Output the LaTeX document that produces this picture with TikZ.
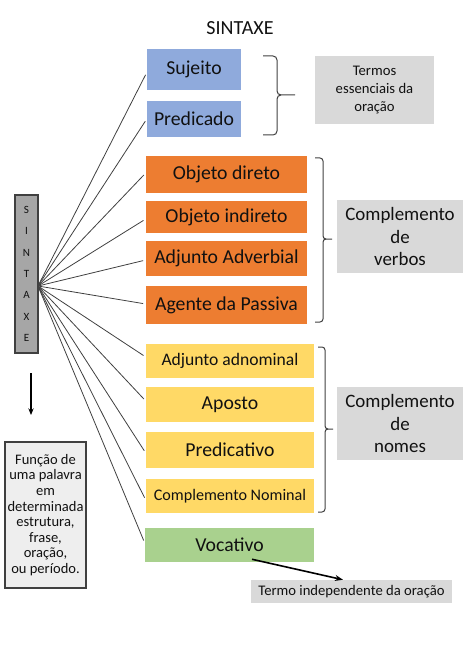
\documentclass[tikz,border=0pt]{standalone}
\usepackage{fontspec}
\setmainfont{Carlito}
\usetikzlibrary{arrows.meta,calc}
\definecolor{cblue}{HTML}{8FAADC}
\definecolor{corange}{HTML}{ED7D31}
\definecolor{cyellow}{HTML}{FFD966}
\definecolor{cgreen}{HTML}{A9D18E}
\definecolor{cgray}{HTML}{D9D9D9}
\definecolor{cbar}{HTML}{A6A6A6}
\definecolor{cbarline}{HTML}{404040}
\definecolor{cfunc}{HTML}{EEEEEE}
\definecolor{ctext}{HTML}{111111}
\begin{document}
\begin{tikzpicture}[x=0.75pt,y=-0.75pt,
  bx/.style 2 args={inner sep=0pt, minimum width=#1*0.75pt, minimum height=#2*0.75pt, text=ctext},
  mainf/.style={font=\fontsize{14.8pt}{17pt}\selectfont},
  fan/.style={draw=black!75, line width=0.6pt, shorten >=2pt},
  bracestyle/.style={draw=black!75, line width=0.75pt},
  side/.style={fill=cgray, align=center, text=ctext}
]
\useasboundingbox (0,0) rectangle (474,656);

% title
\node[text=ctext, font=\fontsize{15pt}{18pt}\selectfont] (title) at (240,28) {SINTAXE};

% main boxes
\node[bx={94}{41}, fill=cblue, mainf] (suj) at (194,69.5) {Sujeito};
\node[bx={94}{36}, fill=cblue, mainf] (pred) at (194,119) {Predicado};
\node[bx={161}{37}, fill=corange, mainf] (od) at (226.5,174.5) {Objeto direto};
\node[bx={161}{32}, fill=corange, mainf] (oi) at (226.5,217) {Objeto indireto};
\node[bx={161}{35}, fill=corange, mainf] (aa) at (226.5,258.5) {Adjunto Adverbial};
\node[bx={161}{38}, fill=corange, mainf] (ap) at (226.5,305) {Agente da Passiva};
\node[bx={168}{34}, fill=cyellow, font=\fontsize{13.2pt}{15pt}\selectfont] (adn) at (230,361) {Adjunto adnominal};
\node[bx={168}{35}, fill=cyellow, mainf] (apo) at (230,404.5) {Aposto};
\node[bx={168}{36}, fill=cyellow, mainf] (prv) at (230,450) {Predicativo};
\node[bx={168}{34}, fill=cyellow, font=\fontsize{12.1pt}{14pt}\selectfont] (cn) at (230,496) {Complemento Nominal};
\node[bx={169}{34}, fill=cgreen, mainf] (voc) at (229.5,545) {Vocativo};

% side labels
\node[bx={119}{68}, side, font=\fontsize{11pt}{13.7pt}\selectfont] (te) at (374.5,90) {Termos\\essenciais da\\oração};
\node[bx={126}{73}, side, font=\fontsize{14.2pt}{16.9pt}\selectfont] (cv) at (400,236.5) {Complemento\\de\\verbos};
\node[bx={126}{73}, side, font=\fontsize{14.2pt}{16.9pt}\selectfont] (cnm) at (400,423.5) {Complemento\\de\\nomes};
\node[bx={201}{23}, side, font=\fontsize{11pt}{13pt}\selectfont] (ti) at (351.5,591.5) {Termo independente da oração};

% left bar
\node[bx={23}{158}, fill=cbar, draw=cbarline, line width=0.8pt, align=center,
      font=\fontsize{8.3pt}{16pt}\selectfont] (bar) at (26.5,274) {S\\I\\N\\T\\A\\X\\E};
\coordinate (hub) at (38,286);

% function box
\node[bx={81}{146}, fill=cfunc, draw=cbarline, line width=0.8pt, align=center,
      font=\fontsize{10.9pt}{11.7pt}\selectfont] (func) at (45.5,515)
      {Função de\\uma palavra\\em\\determinada\\estrutura,\\frase,\\oração,\\ou período.};

% down arrow
\coordinate (arrS) at (31,373);
\coordinate (arrE) at (31,415);
\draw[line width=1.3pt, -{Stealth[length=5pt,width=4pt]}] (arrS) -- (arrE);

% fan lines
\foreach \n/\dy in {suj/3, pred/0, od/-1.5, oi/2, aa/1.5, ap/-1, adn/-4, apo/-3.5, prv/3, cn/4, voc/-2}
  \draw[fan] (hub) -- ([yshift=-\dy*0.75pt]\n.west);

% braces
\draw[bracestyle] (263,56) -- (273,56) to[out=0,in=90] (277,60) -- (277,91)
  to[out=-90,in=180] (281,95) -- (295,95);
\draw[bracestyle] (281,95) to[out=180,in=90] (277,99) -- (277,131)
  to[out=-90,in=0] (273,135) -- (263,135);

\draw[bracestyle] (315,158) -- (320,158) to[out=0,in=90] (323,161) -- (323,236)
  to[out=-90,in=180] (326,239) -- (332,239);
\draw[bracestyle] (326,239) to[out=180,in=90] (323,242) -- (323,319)
  to[out=-90,in=0] (320,322) -- (315,322);

\draw[bracestyle] (318,347) -- (322,347) to[out=0,in=90] (325,350) -- (325,426)
  to[out=-90,in=180] (328,429) -- (333,429);
\draw[bracestyle] (328,429) to[out=180,in=90] (325,432) -- (325,509)
  to[out=-90,in=0] (322,512) -- (318,512);

% vocativo arrow
\draw[line width=1.2pt, -{Stealth[length=6pt,width=4.5pt]}]
  ($(voc.south)+(22.5,-3)$) -- ($(ti.north)+(-8.5,0)$);
\end{tikzpicture}
\end{document}
